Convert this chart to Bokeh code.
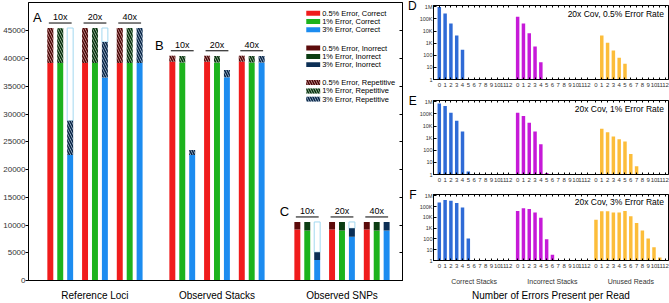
from bokeh.plotting import figure
from bokeh.layouts import row, column
from bokeh.models import (Range1d, FixedTicker, LinearAxis, ColumnDataSource)
from bokeh.embed import file_html
from bokeh.resources import INLINE
from bokeh.core.properties import value

FONT = "Liberation Sans"

# ---------------- data ----------------
coverages = ["10x", "20x", "40x"]
error_rates = ["0.5%", "1%", "3%"]
panel_names = ["Reference Loci", "Observed Stacks", "Observed SNPs"]
panel_letters = ["A", "B", "C"]

# A: reference loci, values per coverage (10x, 20x, 40x)
ref_correct_05 = [39200, 39200, 39200]
ref_correct_1 = [39200, 39200, 39200]
ref_correct_3 = [22600, 36600, 39200]
ref_repetitive_05 = [6300, 6300, 6300]
ref_repetitive_1 = [6250, 6300, 6300]
ref_repetitive_3 = [6200, 6400, 6300]
ref_total = 45500

# B: observed stacks
stk_correct_05 = [39400, 39400, 39400]
stk_correct_1 = [39300, 39300, 39300]
stk_correct_3 = [22600, 36650, 39300]
stk_repetitive_05 = [1100, 1100, 1100]
stk_repetitive_1 = [1150, 1150, 1150]
stk_repetitive_3 = [900, 1300, 1150]

# C: observed SNPs
snp_correct_05 = [9200, 9200, 9200]
snp_correct_1 = [9000, 9000, 9000]
snp_correct_3 = [3700, 7900, 9000]
snp_incorrect_05 = [1350, 1350, 1350]
snp_incorrect_1 = [1550, 1550, 1550]
snp_incorrect_3 = [1400, 1500, 1550]
snp_total = 10550

# D-F: reads per number of errors (index = number of errors 0..12)
err_counts = list(range(13))
err_groups = ["Correct Stacks", "Incorrect Stacks", "Unused Reads"]
err_titles = ["20x Cov, 0.5% Error Rate", "20x Cov, 1% Error Rate", "20x Cov, 3% Error Rate"]
err_letters = ["D", "E", "F"]
d_correct = [1000000, 290000, 43000, 4300, 290, 0, 0, 0, 0, 0, 0, 0, 0]
d_incorrect = [155000, 43000, 6600, 540, 26, 0, 0, 0, 0, 0, 0, 0, 0]
d_unused = [0, 4300, 1100, 250, 63, 20, 0, 0, 0, 0, 0, 0, 0]
e_correct = [740000, 450000, 127000, 27000, 3500, 1.8, 0, 0, 0, 0, 0, 0, 0]
e_incorrect = [127000, 69000, 19000, 3500, 320, 1.3, 0, 0, 0, 0, 0, 0, 0]
e_unused = [0, 5900, 3100, 1400, 830, 540, 49, 4.8, 0, 0, 0, 0, 0]
f_correct = [240000, 400000, 350000, 215000, 83000, 112, 0, 0, 0, 0, 0, 0, 0]
f_incorrect = [39000, 69000, 60000, 28000, 9100, 93, 3.5, 0, 0, 0, 0, 0, 0]
f_unused = [5900, 36000, 36000, 28000, 28000, 39000, 12500, 2900, 610, 112, 17, 1.9, 0]

# ---------------- styles / layout ----------------
correct_colors = ["#f01c1c", "#1db31d", "#1c8cf0"]
incorrect_colors = ["#5c0b0b", "#0b3d12", "#0c2f55"]
rep_bg = ["#d6a2a2", "#a8c6a8", "#a9bfd4"]
rep_hatch = ["#4a0808", "#083010", "#0a2546"]
empty_line = "#a2d8f0"
err_colors = ["#2f6bd6", "#c61ad8", "#fcbd3a"]

cat_start = [2.2, 14.5, 27.1]
GROUP_STEP = 3.5
BAR_STEP = 1.0
BAR_W = 0.6
TXT = "#333333"
YMAX = 50100
FRAME_H = 285
PX = YMAX / FRAME_H          # data units per screen pixel (vertical)

# ---------------- left panel ----------------
p = figure(width=404, height=303, x_range=Range1d(0, 37.7), y_range=Range1d(0, YMAX),
           output_backend="svg", toolbar_location=None,
           min_border_left=25, min_border_right=2, min_border_top=2, min_border_bottom=16)
p.grid.visible = False
p.outline_line_color = "black"
p.outline_line_width = 1

ref_c = [ref_correct_05, ref_correct_1, ref_correct_3]
ref_r = [ref_repetitive_05, ref_repetitive_1, ref_repetitive_3]
stk_c = [stk_correct_05, stk_correct_1, stk_correct_3]
stk_r = [stk_repetitive_05, stk_repetitive_1, stk_repetitive_3]
snp_c = [snp_correct_05, snp_correct_1, snp_correct_3]
snp_i = [snp_incorrect_05, snp_incorrect_1, snp_incorrect_3]

kinds = ["empty", "correct", "incorrect", "repetitive"]
seg = {k: [dict(x=[], bottom=[], top=[]) for _ in range(3)] for k in kinds}


def add(kind, e, x, b, t):
    seg[kind][e]["x"].append(x)
    seg[kind][e]["bottom"].append(b)
    seg[kind][e]["top"].append(t)


def bar_x(panel, cov, err):
    return cat_start[panel] + cov * GROUP_STEP + err * BAR_STEP


for e in range(3):
    for c in range(3):
        x = bar_x(0, c, e)
        add("correct", e, x, 0, ref_c[e][c])
        t = ref_c[e][c] + ref_r[e][c]
        add("repetitive", e, x, ref_c[e][c], t)
        if ref_total - t > 200:
            add("empty", e, x, t, ref_total)
        x = bar_x(1, c, e)
        add("correct", e, x, 0, stk_c[e][c])
        add("repetitive", e, x, stk_c[e][c], stk_c[e][c] + stk_r[e][c])
        x = bar_x(2, c, e)
        add("correct", e, x, 0, snp_c[e][c])
        t = snp_c[e][c] + snp_i[e][c]
        add("incorrect", e, x, snp_c[e][c], t)
        if snp_total - t > 200:
            add("empty", e, x, t, snp_total)

for e in range(3):
    p.vbar(x="x", bottom="bottom", top="top", width=BAR_W,
           source=ColumnDataSource(seg["empty"][e]),
           fill_color="white", line_color=empty_line, line_width=1)
for e in range(3):
    p.vbar(x="x", bottom="bottom", top="top", width=BAR_W,
           source=ColumnDataSource(seg["correct"][e]),
           fill_color=correct_colors[e], line_color=None)
for e in range(3):
    p.vbar(x="x", bottom="bottom", top="top", width=BAR_W,
           source=ColumnDataSource(seg["incorrect"][e]),
           fill_color=incorrect_colors[e], line_color=None)
for e in range(3):
    p.vbar(x="x", bottom="bottom", top="top", width=BAR_W,
           source=ColumnDataSource(seg["repetitive"][e]),
           fill_color=rep_bg[e], line_color=None, hatch_pattern="\\",
           hatch_color=rep_hatch[e], hatch_weight=1.6, hatch_scale=5)

# group labels with underlines
panel_tops = [ref_total, stk_c[0][0] + stk_r[0][0], snp_total]
lx, ly, lt, ux0, ux1, uy = [], [], [], [], [], []
for pi in range(3):
    for c in range(3):
        cx = bar_x(pi, c, 1)
        lx.append(cx)
        ly.append(panel_tops[pi] + 1050)
        lt.append(coverages[c])
        ux0.append(cx - 1.15)
        ux1.append(cx + 1.15)
        uy.append(panel_tops[pi] + 900)
p.segment(x0=ux0, x1=ux1, y0=uy, y1=uy, line_color="black", line_width=1)
p.text(x=lx, y=ly, text=lt, text_font=value(FONT), text_font_size="9px",
       text_align="center", text_baseline="bottom", text_color="black")
p.text(x=[cat_start[i] - 1.3 for i in range(3)], y=[t + 1900 for t in panel_tops],
       text=panel_letters, text_font=value(FONT), text_font_size="13px",
       text_align="center", text_baseline="middle", text_color="black")

# legend (three blocks drawn in the plot's own coordinates)
LEG_X = 28.7          # swatch centre
LEG_TXT_X = 29.6
leg_rows_px = [[13, 21.5, 30], [48.7, 57.3, 65.7], [84, 92.7, 101]]
leg_words = ["Correct", "Inorrect", "Repetitive"]
for blk in range(3):
    ys = [(287 - r) * PX for r in leg_rows_px[blk]]
    labels = [f"{error_rates[e]} Error, {leg_words[blk]}" for e in range(3)]
    if blk == 0:
        p.rect(x=[LEG_X] * 3, y=ys, width=1.4, height=5 * PX, fill_color=correct_colors,
               line_color=None)
    elif blk == 1:
        p.rect(x=[LEG_X] * 3, y=ys, width=1.4, height=5 * PX, fill_color=incorrect_colors,
               line_color=None)
    else:
        for e in range(3):
            p.rect(x=[LEG_X], y=[ys[e]], width=1.4, height=5 * PX, fill_color=rep_bg[e],
                   line_color=None, hatch_pattern="\\", hatch_color=rep_hatch[e],
                   hatch_weight=1.6, hatch_scale=5)
    p.text(x=[LEG_TXT_X] * 3, y=ys, text=labels, text_font=value(FONT),
           text_font_size="7.5px", text_align="left", text_baseline="middle",
           text_color="black")

# axes
cat_centers = [bar_x(i, 1, 1) for i in range(3)]
p.xaxis.ticker = FixedTicker(ticks=cat_centers)
p.xaxis.major_label_overrides = {cat_centers[i]: panel_names[i] for i in range(3)}
p.xaxis.major_tick_line_color = None
p.xaxis.minor_tick_line_color = None
p.xaxis.major_label_text_font = FONT
p.xaxis.major_label_text_font_size = "10px"
p.xaxis.major_label_text_color = "black"
p.xaxis.major_label_standoff = 3
p.xaxis.axis_line_color = "black"

yt = list(range(0, 45001, 5000))
p.yaxis.ticker = FixedTicker(ticks=yt)
p.yaxis.major_tick_out = 3
p.yaxis.major_tick_in = 0
p.yaxis.minor_tick_line_color = None
p.yaxis.major_label_text_font = FONT
p.yaxis.major_label_text_font_size = "8px"
p.yaxis.major_label_text_color = TXT
p.yaxis.major_label_standoff = 0
ax_r = LinearAxis(ticker=FixedTicker(ticks=yt), major_tick_in=3, major_tick_out=0,
                  minor_tick_line_color=None, major_label_text_font_size="1px",
                  major_label_text_color=None, major_label_standoff=0)
p.add_layout(ax_r, "right")

# ---------------- right panels ----------------
err_data = [(d_correct, d_incorrect, d_unused), (e_correct, e_incorrect, e_unused),
            (f_correct, f_incorrect, f_unused)]
heights = [94, 94, 115]
b_top = [5, 6, 6]
b_bot = [15, 14, 35]
GSTEP = 13.5
YTOP = 1.3e6
xt = [g * GSTEP + k for g in range(3) for k in err_counts]
x_over = {g * GSTEP + k: str(k) for g in range(3) for k in err_counts}
ylog_ticks = [1, 10, 100, 1000, 10000, 100000, 1000000]
ylog_labels = ["1", "10", "100", "1K", "10K", "100K", "1M"]
axis_props = LinearAxis.properties()

figs = []
for pi in range(3):
    q = figure(width=265, height=heights[pi], x_range=Range1d(-1, 39.5),
               y_range=Range1d(1, YTOP), y_axis_type="log",
               output_backend="svg", toolbar_location=None,
               min_border_left=28, min_border_right=1,
               min_border_top=b_top[pi], min_border_bottom=b_bot[pi])
    q.grid.visible = False
    q.outline_line_color = "black"
    for g in range(3):
        vals = err_data[pi][g]
        xs = [g * GSTEP + k for k in err_counts if vals[k] > 0]
        ts = [vals[k] for k in err_counts if vals[k] > 0]
        src = ColumnDataSource(dict(x=xs, top=ts, bottom=[1] * len(xs)))
        q.vbar(x="x", top="top", bottom="bottom", width=0.6, source=src,
               fill_color=err_colors[g], line_color=None)
    q.text(x=[38.7], y=[2.6e5], text=[err_titles[pi]], text_font=value(FONT),
           text_font_size="8.5px", text_align="right", text_baseline="middle",
           text_color="black")
    q.xaxis.ticker = FixedTicker(ticks=xt)
    q.xaxis.major_label_overrides = x_over
    q.xaxis.major_tick_in = 2
    q.xaxis.major_tick_out = 0
    q.xaxis.minor_tick_line_color = None
    q.xaxis.major_label_text_font = FONT
    q.xaxis.major_label_text_font_size = "6px"
    q.xaxis.major_label_text_color = TXT
    q.xaxis.major_label_standoff = 3
    top_ax = LinearAxis(ticker=FixedTicker(ticks=xt), major_tick_in=2, major_tick_out=0,
                        minor_tick_line_color=None, major_label_text_font_size="1px",
                        major_label_text_color=None, major_label_standoff=0)
    q.add_layout(top_ax, "above")
    q.yaxis.ticker = FixedTicker(ticks=ylog_ticks)
    q.yaxis.major_label_overrides = {ylog_ticks[i]: ylog_labels[i] for i in range(7)}
    q.yaxis.major_tick_in = 3
    q.yaxis.major_tick_out = 0
    q.yaxis.minor_tick_line_color = None
    q.yaxis.major_label_text_font = FONT
    q.yaxis.major_label_text_font_size = "5.5px"
    q.yaxis.major_label_text_color = TXT
    q.yaxis.major_label_standoff = 1
    # panel letter as the (horizontal, top-aligned) y-axis label
    q.yaxis.axis_label = err_letters[pi]
    q.yaxis.axis_label_text_font = FONT
    q.yaxis.axis_label_text_font_size = "12px"
    q.yaxis.axis_label_text_font_style = "normal"
    q.yaxis.axis_label_text_color = "black"
    q.yaxis.axis_label_standoff = 0
    if "axis_label_orientation" in axis_props:
        q.yaxis.axis_label_orientation = "horizontal"
    if "axis_label_align" in axis_props:
        q.yaxis.axis_label_align = "end"
    if pi == 2:
        gc = [g * GSTEP + 6 for g in range(3)]
        names_ax = LinearAxis(ticker=FixedTicker(ticks=gc),
                              major_label_overrides={gc[i]: err_groups[i] for i in range(3)},
                              axis_line_color=None, major_tick_line_color=None,
                              minor_tick_line_color=None, major_label_text_font=FONT,
                              major_label_text_font_size="7px", major_label_text_color=TXT,
                              major_label_standoff=1,
                              axis_label="Number of Errors Present per Read",
                              axis_label_text_font=FONT, axis_label_text_font_size="10px",
                              axis_label_text_font_style="normal",
                              axis_label_text_color="black", axis_label_standoff=2)
        q.add_layout(names_ax, "below")
    figs.append(q)

layout = row(p, column(*figs, width=265, height=303), width=669, height=303)
open("out.html", "w").write(file_html(layout, INLINE))
